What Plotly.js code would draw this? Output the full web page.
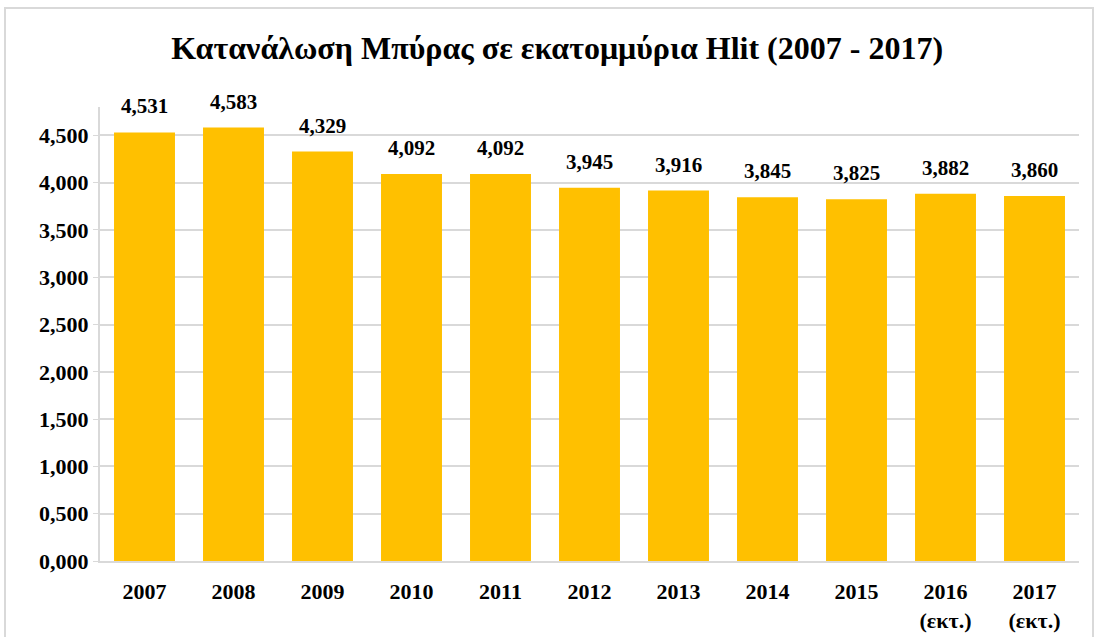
<!DOCTYPE html>
<html>
<head>
<meta charset="utf-8">
<script src="https://cdn.plot.ly/plotly-3.0.1.min.js"></script>
<style>
html,body{margin:0;padding:0;background:#fff;}
#chart{width:1099px;height:637px;}
#frame{position:absolute;left:4px;top:7px;width:1090px;height:640px;border:2px solid #d9d9d9;pointer-events:none;box-sizing:border-box;}
</style>
</head>
<body>
<div id="chart"></div>
<div id="frame"></div>
<script>
const categories = ["2007","2008","2009","2010","2011","2012","2013","2014","2015","2016<br>(εκτ.)","2017<br>(εκτ.)"];
const consumption = [4.531, 4.583, 4.329, 4.092, 4.092, 3.945, 3.916, 3.845, 3.825, 3.882, 3.860];
const titleText = "Κατανάλωση Μπύρας σε εκατομμύρια Hlit (2007 - 2017)";

const serif = "Liberation Serif, Times New Roman, serif";

const annotations = categories.map((c, i) => ({
  x: i, y: consumption[i], xref: 'x', yref: 'y',
  text: '<b>' + consumption[i].toFixed(3).replace('.', ',') + '</b>',
  showarrow: false, yanchor: 'bottom', yshift: 12,
  font: {family: serif, size: 21, color: '#000'}
}));

const data = [{
  type: 'bar', x: categories, y: consumption,
  marker: {color: '#FFC000'},
  hoverinfo: 'x+y'
}];

const layout = {
  width: 1099, height: 637,
  margin: {l: 100, r: 20, t: 107, b: 76},
  paper_bgcolor: '#fff', plot_bgcolor: '#fff',
  separators: ',.',
  bargap: 0.315,
  showlegend: false,
  title: {text: '<b>' + titleText + '</b>', x: 0.507, xanchor: 'center', y: 0.925, yanchor: 'middle',
          font: {family: serif, size: 32, color: '#000'}},
  xaxis: {
    type: 'category', range: [-0.5, 10.5], autorange: false,
    showline: true, linecolor: '#d9d9d9', linewidth: 2,
    ticks: '', tickfont: {family: serif, size: 22, color: '#000', weight: 'bold'},
    ticklabelstandoff: 10
  },
  yaxis: {
    range: [0, 4.8], dtick: 0.5, tick0: 0, tickformat: '.3f',
    showgrid: true, gridcolor: '#d9d9d9', gridwidth: 1.5,
    showline: true, linecolor: '#d9d9d9', linewidth: 2,
    ticks: 'outside', ticklen: 5, tickcolor: '#d9d9d9',
    tickfont: {family: serif, size: 22, color: '#000', weight: 'bold'},
    zeroline: false
  },
  annotations: annotations
};

Plotly.newPlot('chart', data, layout, {displayModeBar: false});
</script>
</body>
</html>
